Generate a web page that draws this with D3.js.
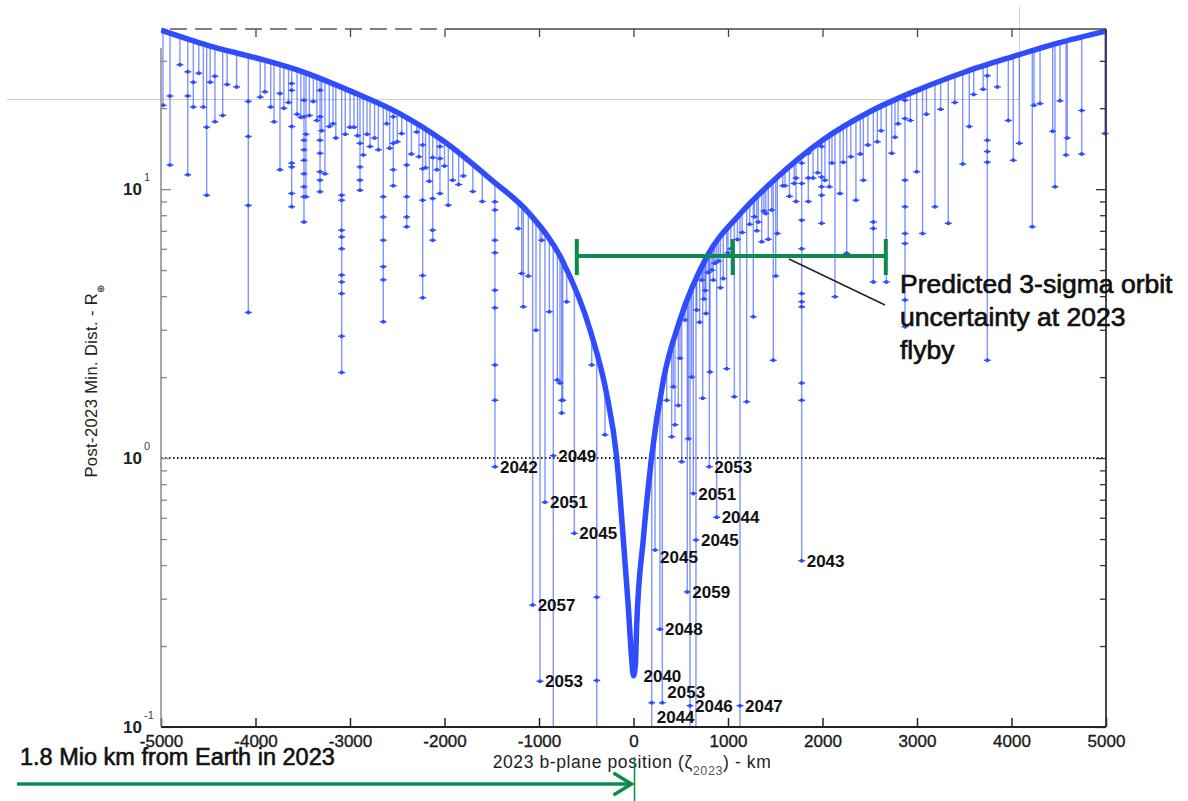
<!DOCTYPE html>
<html>
<head>
<meta charset="utf-8">
<script src="https://cdn.jsdelivr.net/npm/d3@7"></script>
<style>
  body { margin: 0; background: #fff; }
  svg { display: block; }
  text { font-family: "Liberation Sans", Arial, sans-serif; }
</style>
</head>
<body>
<svg width="1188" height="801"></svg>
<script>
// nominal envelope: 2023 b-plane position (km) vs post-2023 min distance (Earth radii)
var envX = [-5000, -4500, -4000, -3500, -3000, -2500, -2000, -1500, -1100, -750, -460, -280, -180, -108, -55, -20, 0,
            20, 34, 104, 190, 316, 490, 775, 1130, 1500, 2000, 2500, 3000, 3500, 4000, 4500, 5000];
var envD = [39, 34.2, 30.8, 27.3, 23.2, 19.3, 15.0, 10.8, 8.1, 5.4, 3.0, 1.7, 1.02, 0.5, 0.28, 0.18, 0.155,
            0.17, 0.24, 0.5, 1.0, 1.95, 3.25, 5.6, 8.1, 10.9, 15.2, 19.4, 23.3, 27.2, 31.0, 35.0, 38.7];

// virtual impactor stems: [b-plane km, deepest min distance, other encounters on the same stem]
// a depth of 0.09 means the stem runs off the bottom of the plot
var stems = [
  [-4979, 20.5, []], [-4905, 12.3, [22.2]], [-4800, 29, []], [-4717, 11.3, [27.3, 22.2]], [-4658, 20.2, [25.0]],
  [-4600, 27, []], [-4552, 20.2, []], [-4517, 9.5, [17.0]], [-4480, 25, []], [-4429, 17.8, [26.3]],
  [-4347, 18.8, []], [-4300, 24.5, []], [-4200, 24, []], [-4076, 3.48, [21.2, 15.7, 8.7]], [-3950, 22, []],
  [-3900, 23, []], [-3839, 20.2, []], [-3804, 17.8, []], [-3741, 11.8, [22.7]], [-3700, 20, []],
  [-3650, 21, []], [-3617, 8.6, [24.7, 23.3, 17.1, 12.5, 12.1, 9.64]], [-3560, 19, []], [-3520, 18.5, []],
  [-3487, 7.55, [21.4, 18.6, 15.2, 14.0, 12.8, 11.4, 10.2, 9.36]], [-3466, 9.36, [16.0]], [-3430, 18.8, []],
  [-3388, 21.2, []], [-3350, 18, []], [-3317, 9.77, [23.3, 18.6, 15.2, 13.6, 11.6, 10.8]], [-3300, 16.5, []],
  [-3265, 11.4, []], [-3219, 17.1, []], [-3180, 17.5, []], [-3150, 15.5, []],
  [-3088, 2.08, [9.5, 9.1, 7.04, 6.64, 6.0, 4.79, 4.52, 4.09, 2.84]], [-3050, 16, []], [-3000, 17, []],
  [-2958, 17.0, []], [-2920, 15.8, []], [-2894, 9.9, [14.8, 12.1, 10.8]], [-2859, 13.4, []], [-2820, 16, []],
  [-2788, 14.4, []], [-2740, 15.5, []], [-2700, 14, []], [-2648, 3.21, [9.36, 7.88, 6.46, 5.15, 4.6]],
  [-2612, 17.5, []], [-2580, 14.2, []], [-2542, 10.3, [18.6, 14.8, 11.8]], [-2500, 15.0, []],
  [-2453, 16.1, []], [-2400, 7.24, [12.3, 9.36, 7.88]], [-2350, 13.5, []], [-2294, 16.3, []], [-2270, 13.2, []],
  [-2231, 3.95, [14.6, 11.9, 9.1, 4.77]], [-2200, 12.0, []], [-2161, 10.7, []], [-2125, 6.46, [13.1, 9.23, 7.04]],
  [-2080, 11.8, []], [-2048, 9.64, [14.4, 13.0]], [-2000, 12.2, []], [-1960, 8.72, []], [-1913, 10.8, []],
  [-1850, 10.4, []], [-1800, 11.2, []], [-1700, 9.8, []], [-1600, 9.0, []],
  [-1466, 0.928, [8.97, 8.36, 6.46, 5.8, 4.21, 3.62, 2.22, 1.64]],
  [-1219, 7.14, []], [-1183, 4.86, []], [-1166, 3.65, []], [-1113, 4.75, []], [-1067, 0.284, []],
  [-1032, 2.99, []], [-989, 0.148, []], [-971, 6.46, []], [-937, 0.685, []], [-891, 3.5, []],
  [-849, 0.09, [1.02]], [-806, 1.95, []], [-778, 1.9, []], [-760, 1.47, [1.64]], [-749, 1.64, []],
  [-707, 3.81, []], [-626, 0.525, []], [-442, 2.22, []], [-389, 0.09, [0.304, 0.149]], [-302, 1.22, []],
  [193, 0.09, [0.123]], [228, 0.455, []], [280, 0.231, []], [305, 0.123, []], [351, 1.64, []],
  [404, 1.2, []], [421, 1.84, []], [439, 1.33, []], [474, 1.57, []], [492, 2.35, []], [510, 0.969, []],
  [545, 3.26, []], [569, 0.318, []], [580, 1.18, []], [598, 0.09, [0.12]], [616, 2.0, []],
  [633, 0.739, []], [661, 0.09, [0.496]], [669, 3.55, []], [700, 3.2, []], [722, 4.59, []], [732, 1.67, []],
  [745, 3.9, []], [760, 4.2, []], [767, 3.45, []], [790, 4.9, []], [802, 0.928, []], [810, 2.09, []],
  [830, 5.0, []], [844, 4.59, []], [860, 5.3, []], [880, 0.602, []], [900, 5.4, []], [920, 4.3, []],
  [950, 4.65, []], [986, 2.15, []], [1000, 5.8, []], [1030, 6.0, []], [1067, 1.69, []], [1100, 6.5, []],
  [1127, 0.09, [0.12]], [1150, 6.9, []], [1198, 1.62, []], [1230, 7.4, []], [1268, 3.35, []],
  [1280, 7.9, []], [1305, 7.0, []], [1321, 7.55, []], [1357, 6.37, []], [1380, 8.3, []], [1400, 8.12, []],
  [1426, 6.51, []], [1462, 8.36, []], [1479, 2.31, []], [1505, 4.75, []], [1522, 6.84, []],
  [1580, 10.3, []], [1603, 10.3, []], [1650, 9.4, []], [1700, 10.5, []], [1720, 9.0, [11]],
  [1780, 0.415, [12.5, 10.5, 7.67, 6.0, 4.09, 3.81, 3.65, 1.9, 1.64]],
  [1850, 9.0, [13.6, 11.0]], [1900, 11.0, []], [1950, 11.5, []], [1991, 7.46, [14.4, 11.1, 10.2, 9.5]],
  [2026, 10.8, []], [2072, 10.2, []], [2100, 12.5, []], [2132, 3.98, []], [2185, 9.64, []], [2220, 12.6, []],
  [2256, 5.77, []], [2300, 13.2, []], [2354, 9.1, []], [2400, 13.5, []], [2432, 10.8, []], [2480, 14.6, []],
  [2538, 4.52, [7.55, 7.14]], [2580, 15.0, []], [2620, 16.5, []], [2675, 4.52, []], [2732, 13.6, []],
  [2767, 15.6, []], [2800, 17.5, []], [2873, 3.08, [21.4, 18.3, 10.8, 8.6, 6.84, 6.28, 3.87]],
  [2930, 18.0, []], [2997, 11.6, []], [3059, 6.84, []], [3100, 19.0, []], [3190, 8.6, []], [3250, 19.8, []],
  [3331, 7.46, []], [3400, 21.0, []], [3484, 12.4, []], [3553, 17.1, []], [3600, 22.5, []], [3700, 23.5, []],
  [3744, 2.31, [26.4, 15.2, 13.8, 12.6]], [3850, 24.0, []],
  [3966, 18.0, []], [4019, 12.8, []], [4083, 14.8, []], [4220, 7.24, []], [4238, 20.5, []],
  [4302, 20.8, []], [4436, 16.4, []], [4460, 10.2, []], [4513, 21.3, []], [4577, 13.4, []],
  [4590, 15.5, []], [4743, 13.5, [19.6]], [4989, 16.1, []]
];

// year labels of the closest encounters
var labelYear = ['2042', '2049', '2051', '2045', '2057', '2053', '2040', '2053', '2044', '2045',
                 '2048', '2059', '2045', '2053', '2051', '2044', '2043', '2046', '2047'];
var labelX = [-1466, -849, -937, -626, -1067, -989, 0, 305, 193, 228, 280, 569, 661, 802, 633, 880, 1780, 598, 1127];
var labelD = [0.928, 1.02, 0.685, 0.525, 0.284, 0.148, 0.155, 0.123, 0.123, 0.455, 0.231, 0.318, 0.496,
              0.928, 0.739, 0.602, 0.415, 0.12, 0.12];

// predicted 3-sigma uncertainty of the 2023 flyby: [left, centre, right] km, drawn at this distance
var sigmaX = [-600, 1050, 2670];
var sigmaD = 5.64;

var xTicks = [-5000, -4000, -3000, -2000, -1000, 0, 1000, 2000, 3000, 4000, 5000];
var yMajor = [0.1, 1, 10];
var yExp = ['-1', '0', '1'];
var yMinor = [0.2, 0.3, 0.4, 0.5, 0.6, 0.7, 0.8, 0.9, 2, 3, 4, 5, 6, 7, 8, 9, 20, 30];

var svg = d3.select('svg');
var L = 161, R = 1106, T = 29, B = 727;

var x = d3.scaleLinear().domain([-5000, 5000]).range([L, R]);
var y = d3.scaleLog().domain([0.1, 39.4]).range([B, T]);

var blue = '#2f4cff';

// stray screenshot guide lines
svg.append('line').attr('x1', 7).attr('x2', 1019).attr('y1', 99.5).attr('y2', 99.5)
  .attr('stroke', '#cfcfcf').attr('stroke-width', 1);
svg.append('line').attr('x1', 1019.5).attr('x2', 1019.5).attr('y1', 7).attr('y2', 99.5)
  .attr('stroke', '#cfcfcf').attr('stroke-width', 1);

svg.append('clipPath').attr('id', 'plot')
  .append('rect').attr('x', L).attr('y', T - 6).attr('width', R - L + 4).attr('height', B - T + 6);

// 1 Earth radius reference
svg.append('line')
  .attr('x1', L).attr('x2', R).attr('y1', y(1)).attr('y2', y(1))
  .attr('stroke', '#222').attr('stroke-width', 2).attr('stroke-dasharray', '1.5,2.5');

function envAt(v) {
  for (var i = 0; i < envX.length - 1; i++) {
    if (v >= envX[i] && v <= envX[i + 1]) {
      var t = (v - envX[i]) / (envX[i + 1] - envX[i]);
      return Math.exp(Math.log(envD[i]) + t * (Math.log(envD[i + 1]) - Math.log(envD[i])));
    }
  }
  return envD[envD.length - 1];
}

var plot = svg.append('g').attr('clip-path', 'url(#plot)');

plot.selectAll('line.stem')
  .data(stems)
  .enter()
  .append('line')
  .attr('class', 'stem')
  .attr('x1', function (d) { return x(d[0]); })
  .attr('x2', function (d) { return x(d[0]); })
  .attr('y1', function (d) { return y(envAt(d[0])); })
  .attr('y2', function (d) { return d[1] < 0.1 ? B + 5 : y(d[1]); })
  .attr('stroke', blue).attr('stroke-opacity', 0.6).attr('stroke-width', 1.4);

var dots = [];
stems.forEach(function (s) {
  if (s[1] >= 0.1) dots.push([s[0], s[1]]);
  s[2].forEach(function (v) { dots.push([s[0], v]); });
});

var dotG = plot.selectAll('g.dot')
  .data(dots)
  .enter()
  .append('g')
  .attr('class', 'dot')
  .attr('transform', function (d) { return 'translate(' + x(d[0]) + ',' + y(d[1]) + ')'; });
dotG.append('line').attr('x1', -3.5).attr('x2', 3.5).attr('stroke', blue).attr('stroke-width', 1.3);
dotG.append('circle').attr('r', 2).attr('fill', blue);

var env = d3.zip(envX, envD);
plot.append('path')
  .datum(env)
  .attr('d', d3.line().x(function (d) { return x(d[0]); }).y(function (d) { return y(d[1]); }).curve(d3.curveMonotoneX))
  .attr('fill', 'none').attr('stroke', blue).attr('stroke-width', 5.5).attr('stroke-linejoin', 'round');

// year labels
var nudgeDx = { 6: 10 };
var nudgeDy = { 7: -11, 8: 14, 9: 7 };
svg.selectAll('text.yr')
  .data(labelYear)
  .enter()
  .append('text')
  .attr('class', 'yr')
  .attr('x', function (d, i) { return x(labelX[i]) + (nudgeDx[i] || 5); })
  .attr('y', function (d, i) { return y(labelD[i]) + (nudgeDy[i] || 0); })
  .attr('dy', '0.36em')
  .attr('font-size', 17).attr('font-weight', 'bold').attr('fill', '#111')
  .text(function (d) { return d; });

// axes
var xAxis = svg.append('g').attr('transform', 'translate(0,' + B + ')')
  .call(d3.axisBottom(x).tickValues(xTicks).tickSizeInner(-9).tickSizeOuter(0).tickPadding(8)
    .tickFormat(function (d) { return String(d); }));
xAxis.select('.domain').remove();
xAxis.selectAll('line').attr('stroke', '#222').attr('stroke-width', 1.5);
xAxis.selectAll('text').attr('font-size', 17).attr('fill', '#1a1a1a')
  .attr('stroke', '#1a1a1a').attr('stroke-width', 0.35)
  .attr('font-family', '"Liberation Sans", Arial, sans-serif');

var topAxis = svg.append('g').attr('transform', 'translate(0,' + T + ')')
  .call(d3.axisTop(x).tickValues(xTicks.slice(1, -1)).tickSizeInner(-8).tickSizeOuter(0).tickFormat(''));
topAxis.select('.domain').remove();
topAxis.selectAll('line').attr('stroke', '#444').attr('stroke-width', 1.3);

function yTicks(side, pos, color) {
  var mk = side === 'left' ? d3.axisLeft : d3.axisRight;
  var gMin = svg.append('g').attr('transform', 'translate(' + pos + ',0)')
    .call(mk(y).tickValues(yMinor).tickSizeInner(-6).tickSizeOuter(0).tickFormat(''));
  var gMaj = svg.append('g').attr('transform', 'translate(' + pos + ',0)')
    .call(mk(y).tickValues(yMajor).tickSizeInner(-10).tickSizeOuter(0).tickFormat(''));
  [gMin, gMaj].forEach(function (g) {
    g.select('.domain').remove();
    g.selectAll('line').attr('stroke', color).attr('stroke-width', 1.3);
  });
}
yTicks('left', L, '#888');
yTicks('right', R, '#333');

// frame
svg.append('line').attr('x1', L).attr('x2', R).attr('y1', B).attr('y2', B).attr('stroke', '#222').attr('stroke-width', 1.8);
svg.append('line').attr('x1', R).attr('x2', R).attr('y1', T).attr('y2', B).attr('stroke', '#333').attr('stroke-width', 1.8);
svg.append('line').attr('x1', L).attr('x2', L).attr('y1', 48).attr('y2', B).attr('stroke', '#888').attr('stroke-width', 1.5);
svg.append('line').attr('x1', 170).attr('x2', 447).attr('y1', T).attr('y2', T)
  .attr('stroke', '#555').attr('stroke-width', 1.3).attr('stroke-dasharray', '17,8');
svg.append('line').attr('x1', 447).attr('x2', R).attr('y1', T).attr('y2', T).attr('stroke', '#444').attr('stroke-width', 1.3);

// y tick labels 10^n
yMajor.forEach(function (v, i) {
  svg.append('text').attr('x', 142).attr('y', y(v)).attr('dy', '0.36em').attr('text-anchor', 'end')
    .attr('font-size', 17).attr('font-weight', 'bold').attr('fill', '#222').text('10');
  svg.append('text').attr('x', 144).attr('y', y(v) - 8).attr('font-size', 11).attr('fill', '#444').text(yExp[i]);
});

// axis titles
var yt = svg.append('text').attr('transform', 'translate(97,381) rotate(-90)')
  .attr('text-anchor', 'middle').attr('font-size', 16.5).attr('letter-spacing', 0.4).attr('fill', '#222');
yt.append('tspan').text('Post-2023 Min. Dist. - R');
yt.append('tspan').attr('font-size', 10).attr('dy', 7).text('\u2295');

var xt = svg.append('text').attr('x', 632).attr('y', 768).attr('text-anchor', 'middle')
  .attr('font-size', 17.5).attr('letter-spacing', 0.6).attr('fill', '#222');
xt.append('tspan').text('2023 b-plane position (\u03b6');
xt.append('tspan').attr('font-size', 12.5).attr('fill', '#555').attr('dy', 7).text('2023');
xt.append('tspan').attr('dy', -7).text(') - km');

// 3-sigma bar
var green = '#0b8c4c';
var sy = y(sigmaD);
svg.append('line').attr('x1', x(sigmaX[0])).attr('x2', x(sigmaX[2])).attr('y1', sy).attr('y2', sy)
  .attr('stroke', green).attr('stroke-width', 4);
sigmaX.forEach(function (v) {
  svg.append('line').attr('x1', x(v)).attr('x2', x(v)).attr('y1', sy - 17).attr('y2', sy + 19)
    .attr('stroke', green).attr('stroke-width', 4);
});
svg.append('line').attr('x1', 789).attr('y1', 259).attr('x2', 885).attr('y2', 305)
  .attr('stroke', '#222').attr('stroke-width', 1.5);

var ann = svg.append('text').attr('font-family', 'Roboto, sans-serif').attr('font-size', 26.5)
  .attr('fill', '#111').attr('stroke', '#111').attr('stroke-width', 0.7);
['Predicted 3-sigma orbit', 'uncertainty at 2023', 'flyby'].forEach(function (s, i) {
  ann.append('tspan').attr('x', 900).attr('y', 293 + i * 33).text(s);
});

// distance arrow to the 2023 flyby
svg.append('text').attr('x', 20).attr('y', 765).attr('font-family', 'Roboto, sans-serif')
  .attr('font-size', 23.5).attr('fill', '#111').attr('stroke', '#111').attr('stroke-width', 0.6)
  .text('1.8 Mio km from Earth in 2023');
svg.append('line').attr('x1', 17).attr('x2', x(0) - 2).attr('y1', 784).attr('y2', 784)
  .attr('stroke', green).attr('stroke-width', 3.5);
svg.append('path').attr('d', 'M' + (x(0) - 20) + ',773 L' + (x(0) - 2) + ',784 L' + (x(0) - 20) + ',795')
  .attr('fill', 'none').attr('stroke', green).attr('stroke-width', 3.5).attr('stroke-linejoin', 'miter');
svg.append('line').attr('x1', x(0) + 1).attr('x2', x(0) + 1).attr('y1', 757).attr('y2', 801)
  .attr('stroke', green).attr('stroke-width', 1.5);
</script>
</body>
</html>
